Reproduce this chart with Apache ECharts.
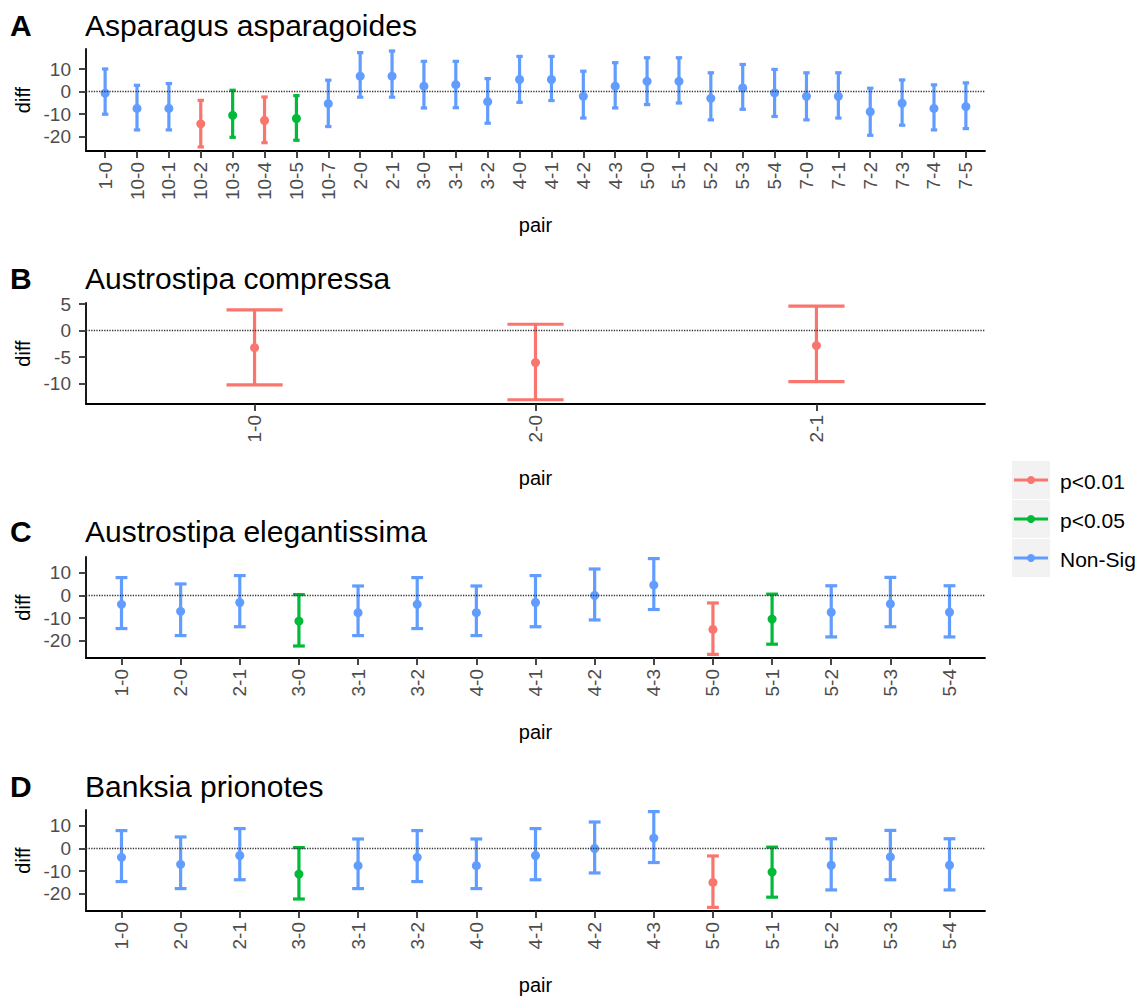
<!DOCTYPE html>
<html><head><meta charset="utf-8">
<script src="https://cdn.jsdelivr.net/npm/echarts@6/dist/echarts.min.js"></script>
<style>html,body{margin:0;padding:0;background:#fff}#c{width:1144px;height:1000px}</style>
</head><body><div id="c"></div><script>
// ---------- data ----------
const catsA = ['1-0','10-0','10-1','10-2','10-3','10-4','10-5','10-7','2-0','2-1','3-0','3-1','3-2','4-0','4-1','4-2','4-3','5-0','5-1','5-2','5-3','5-4','7-0','7-1','7-2','7-3','7-4','7-5'];
const diffA = [-0.7,-7.5,-7.5,-14.4,-10.6,-12.9,-12.0,-5.4,6.9,6.9,2.4,3.1,-4.5,5.4,5.4,-2.1,2.4,4.6,4.6,-3.0,1.6,-0.6,-2.1,-2.1,-9.0,-5.2,-7.5,-6.7];
const lwrA  = [-10.1,-17.1,-17.1,-24.7,-20.4,-22.8,-21.7,-15.6,-2.5,-2.5,-7.3,-7.2,-14.1,-4.8,-4.0,-11.8,-7.3,-5.8,-5.1,-12.6,-7.9,-11.1,-12.6,-11.8,-19.5,-15.0,-17.1,-16.5];
const uprA  = [10.1,2.8,3.6,-3.9,0.6,-2.4,-1.8,5.1,17.4,18.1,13.5,13.5,5.8,15.7,15.7,9.1,12.9,15.1,15.1,8.4,12.1,9.9,8.4,8.4,1.5,5.2,3.0,3.9];
const sigA  = ['Non-Sig','Non-Sig','Non-Sig','p<0.01','p<0.05','p<0.01','p<0.05','Non-Sig','Non-Sig','Non-Sig','Non-Sig','Non-Sig','Non-Sig','Non-Sig','Non-Sig','Non-Sig','Non-Sig','Non-Sig','Non-Sig','Non-Sig','Non-Sig','Non-Sig','Non-Sig','Non-Sig','Non-Sig','Non-Sig','Non-Sig','Non-Sig'];
const ticksA = [-20,-10,0,10];

const catsB = ['1-0','2-0','2-1'];
const diffB = [-3.2,-6.0,-2.8];
const lwrB  = [-10.2,-13.0,-9.6];
const uprB  = [3.9,1.2,4.6];
const sigB  = ['p<0.01','p<0.01','p<0.01'];
const ticksB = [-10,-5,0,5];

const catsC = ['1-0','2-0','2-1','3-0','3-1','3-2','4-0','4-1','4-2','4-3','5-0','5-1','5-2','5-3','5-4'];
const diffC = [-3.9,-7.0,-3.1,-11.3,-7.6,-3.9,-7.6,-3.1,0.0,4.6,-15.0,-10.4,-7.4,-3.7,-7.4];
const lwrC  = [-14.6,-17.7,-13.8,-22.3,-17.7,-14.6,-17.7,-13.8,-10.8,-6.2,-26.0,-21.5,-18.3,-13.8,-18.3];
const uprC  = [7.9,5.1,8.8,0.4,4.2,7.9,4.2,8.8,11.7,16.3,-3.3,0.6,4.3,8.0,4.3];
const sigC  = ['Non-Sig','Non-Sig','Non-Sig','p<0.05','Non-Sig','Non-Sig','Non-Sig','Non-Sig','Non-Sig','Non-Sig','p<0.01','p<0.05','Non-Sig','Non-Sig','Non-Sig'];
const ticksC = [-20,-10,0,10];

const catsD = ['1-0','2-0','2-1','3-0','3-1','3-2','4-0','4-1','4-2','4-3','5-0','5-1','5-2','5-3','5-4'];
const diffD = [-3.9,-7.0,-3.1,-11.3,-7.6,-3.9,-7.6,-3.1,0.0,4.6,-15.0,-10.4,-7.4,-3.7,-7.4];
const lwrD  = [-14.6,-17.7,-13.8,-22.3,-17.7,-14.6,-17.7,-13.8,-10.8,-6.2,-26.0,-21.5,-18.3,-13.8,-18.3];
const uprD  = [7.9,5.1,8.8,0.4,4.2,7.9,4.2,8.8,11.7,16.3,-3.3,0.6,4.3,8.0,4.3];
const sigD  = ['Non-Sig','Non-Sig','Non-Sig','p<0.05','Non-Sig','Non-Sig','Non-Sig','Non-Sig','Non-Sig','Non-Sig','p<0.01','p<0.05','Non-Sig','Non-Sig','Non-Sig'];
const ticksD = [-20,-10,0,10];

const legendNames = ['p<0.01','p<0.05','Non-Sig'];
const sigColors = {'p<0.01':'#F8766D','p<0.05':'#00BA38','Non-Sig':'#619CFF'};

// ---------- layout ----------
const panels = [
  {letter:'A', title:'Asparagus asparagoides', cats:catsA, diff:diffA, lwr:lwrA, upr:uprA, sig:sigA, ticks:ticksA, yMin:-26.5, yMax:19.0, top:49, h:102, titleTop:5},
  {letter:'B', title:'Austrostipa compressa', cats:catsB, diff:diffB, lwr:lwrB, upr:uprB, sig:sigB, ticks:ticksB, yMin:-13.8, yMax:5.2, top:303, h:101, titleTop:258},
  {letter:'C', title:'Austrostipa elegantissima', cats:catsC, diff:diffC, lwr:lwrC, upr:uprC, sig:sigC, ticks:ticksC, yMin:-27.6, yMax:17.0, top:557, h:101, titleTop:511},
  {letter:'D', title:'Banksia prionotes', cats:catsD, diff:diffD, lwr:lwrD, upr:uprD, sig:sigD, ticks:ticksD, yMin:-27.6, yMax:17.0, top:810, h:101, titleTop:766}
];

const FONT = '"Liberation Sans", Arial, sans-serif';
const grid=[], xAxis=[], yAxis=[], series=[], title=[];
panels.forEach((p, i) => {
  const n = p.cats.length;
  const idx = p.cats.map((c, k) => k);
  grid.push({left:86, width:899, top:p.top, height:p.h});
  title.push({text:p.letter, left:5, top:p.titleTop, textStyle:{fontFamily:FONT, fontSize:30, fontWeight:'bold', color:'#000'}});
  title.push({text:p.title, left:80, top:p.titleTop, textStyle:{fontFamily:FONT, fontSize:30, fontWeight:'normal', color:'#000'}});
  xAxis.push({
    type:'value', gridIndex:i, min:-0.6, max:n - 0.4,
    axisLine:{show:true, onZero:false, lineStyle:{color:'#000', width:1.8}},
    axisTick:{show:true, length:7, customValues:idx, lineStyle:{color:'#333', width:1.8}},
    axisLabel:{show:true, customValues:idx, rotate:90, margin:11, fontSize:19, fontFamily:FONT, color:'#4D4D4D',
      formatter: v => p.cats[Math.round(v)]},
    splitLine:{show:false},
    name:'pair', nameLocation:'middle', nameGap:64,
    nameTextStyle:{fontSize:20, fontFamily:FONT, color:'#000'}
  });
  yAxis.push({
    type:'value', gridIndex:i, min:p.yMin, max:p.yMax,
    axisLine:{show:true, onZero:false, lineStyle:{color:'#000', width:1.8}},
    axisTick:{show:true, length:7, customValues:p.ticks, lineStyle:{color:'#333', width:1.8}},
    axisLabel:{show:true, customValues:p.ticks, margin:15, fontSize:19, fontFamily:FONT, color:'#4D4D4D'},
    splitLine:{show:false},
    name:'diff', nameLocation:'middle', nameRotate:90, nameGap:53,
    nameTextStyle:{fontSize:20, fontFamily:FONT, color:'#000'}
  });
  series.push({
    type:'custom', xAxisIndex:i, yAxisIndex:i, silent:true,
    data: idx.map(k => [k, p.lwr[k], p.upr[k]]),
    encode:{x:0, y:[1,2]},
    renderItem: function(params, api){
      const x = api.value(0), lo = api.value(1), hi = api.value(2);
      const pLo = api.coord([x, lo]), pHi = api.coord([x, hi]);
      const l = api.coord([x - 0.1, hi])[0], r = api.coord([x + 0.1, hi])[0];
      const st = {stroke: sigColors[p.sig[params.dataIndex]], lineWidth:3.2, fill:null};
      return {type:'group', children:[
        {type:'line', shape:{x1:pLo[0], y1:pLo[1], x2:pHi[0], y2:pHi[1]}, style:st},
        {type:'line', shape:{x1:l, y1:pHi[1], x2:r, y2:pHi[1]}, style:st},
        {type:'line', shape:{x1:l, y1:pLo[1], x2:r, y2:pLo[1]}, style:st}
      ]};
    },
    z:3
  });
  series.push({
    type:'scatter', xAxisIndex:i, yAxisIndex:i, silent:true,
    symbol:'circle', symbolSize:9,
    data: idx.map(k => ({value:[k, p.diff[k]], itemStyle:{color: sigColors[p.sig[k]], opacity:1}})),
    markLine:{silent:true, symbol:'none', label:{show:false},
      lineStyle:{type:'dotted', color:'#333', width:1.3},
      emphasis:{disabled:true},
      data:[{yAxis:0}]},
    z:4
  });
});

// legend (drawn as graphic elements)
const legendChildren = [];
legendNames.forEach((nm, k) => {
  const y0 = 461 + k * 39;
  legendChildren.push({type:'rect', shape:{x:1012, y:y0, width:38, height:38}, style:{fill:'#F2F2F2'}});
  legendChildren.push({type:'line', shape:{x1:1014, y1:y0+19, x2:1048, y2:y0+19}, style:{stroke:sigColors[nm], lineWidth:3}});
  legendChildren.push({type:'circle', shape:{cx:1031, cy:y0+19, r:4}, style:{fill:sigColors[nm]}});
  legendChildren.push({type:'text', x:1060, y:y0+20, style:{text:nm, fontSize:21, fontFamily:FONT, fill:'#000', verticalAlign:'middle', align:'left'}});
});

const chart = echarts.init(document.getElementById('c'), null, {renderer:'svg'});
chart.setOption({
  backgroundColor:'#fff',
  animation:false,
  title, grid, xAxis, yAxis, series,
  graphic:[{type:'group', children:legendChildren}]
});
</script></body></html>
